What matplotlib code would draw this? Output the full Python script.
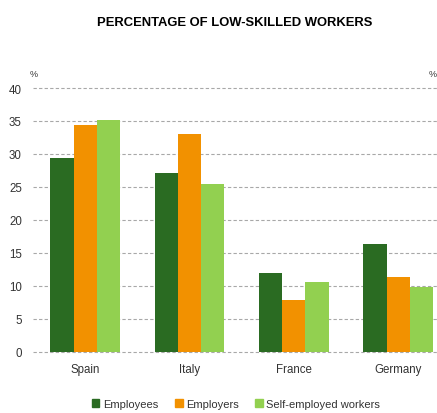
import numpy as np
import matplotlib
matplotlib.use("Agg")
from matplotlib import pyplot as plt
from matplotlib.patches import Patch

countries = ["Spain", "Italy", "France", "Germany"]
employees = [29.4, 27.1, 11.9, 16.4]
employers = [34.4, 33.0, 7.8, 11.3]
self_employed = [35.1, 25.5, 10.6, 9.8]
yticks = [0, 5, 10, 15, 20, 25, 30, 35, 40]

c_emp = "#2a6b22"
c_boss = "#f29100"
c_self = "#92d050"

plt.rcParams["font.family"] = ["Liberation Sans", "DejaVu Sans"]

fig = plt.figure(figsize=(4.37, 4.14), dpi=100)
ax = fig.add_axes([0.0755, 0.148, 0.955, 0.637])

x = np.arange(len(countries))
w = 0.222
ax.bar(x - w, employees, w, color=c_emp, zorder=3)
ax.bar(x, employers, w, color=c_boss, zorder=3)
ax.bar(x + w, self_employed, w, color=c_self, zorder=3)

ax.set_xlim(-0.5, 3.5)
ax.set_ylim(0, 40)
ax.set_yticks(yticks)
ax.set_xticks(x)
ax.set_xticklabels(countries)
ax.tick_params(length=0, labelsize=8.3, colors="#333333")
ax.tick_params(axis="y", pad=8)
ax.tick_params(axis="x", pad=8)
for s in ax.spines.values():
    s.set_visible(False)
for t in yticks:
    ax.axhline(t, color="#a8a8a8", lw=0.8, ls=(0, (3, 2)), zorder=1, clip_on=False)

fig.text(0.068, 0.813, "%", fontsize=6.5, color="#333333")
fig.text(0.999, 0.813, "%", fontsize=6.5, color="#333333", ha="right")

fig.text(0.537, 0.945, "PERCENTAGE OF LOW-SKILLED WORKERS", fontsize=9.4,
         fontweight="bold", ha="center", va="center")

handles = [Patch(color=c_emp), Patch(color=c_boss), Patch(color=c_self)]
fig.legend(handles, ["Employees", "Employers", "Self-employed workers"],
           loc="center", bbox_to_anchor=(0.54, 0.022), ncol=3, frameon=False,
           fontsize=8, handlelength=0.7, handleheight=0.7, handletextpad=0.3,
           columnspacing=1.5, labelcolor="#333333", borderaxespad=0, borderpad=0.1)

fig.savefig("out.png", dpi=100)
